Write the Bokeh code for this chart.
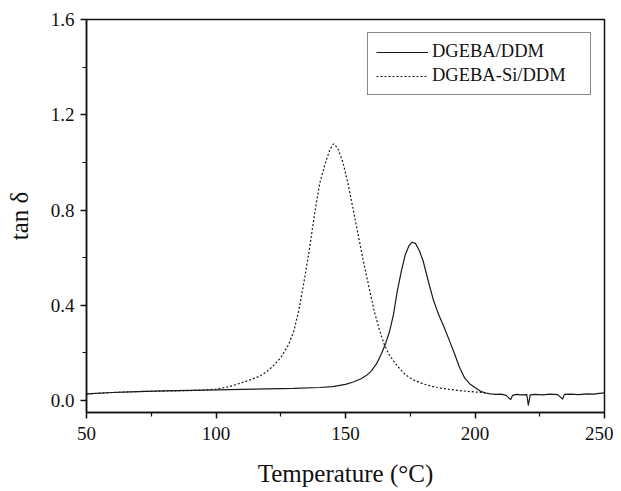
from bokeh.plotting import figure
from bokeh.models import FixedTicker, Range1d, CustomJSTickFormatter
from bokeh.embed import file_html
from bokeh.resources import INLINE

# DGEBA/DDM (solid)
t_ddm = [50, 60, 70, 80, 90, 100, 110, 120, 130, 140, 145, 150, 153, 156, 158, 160, 162, 164,
         165.5, 167, 168.5, 170, 171.5, 173, 174.5, 175.7, 177, 178.5, 180, 182, 184, 186, 188,
         190, 192, 194, 196, 198, 200, 202, 204, 206, 208, 210, 212, 213.8, 214.5, 216, 218, 220,
         220.6, 221.3, 223, 226, 229, 232, 233.8, 234.5, 237, 240, 243, 246, 248, 250]
tan_ddm = [0.028, 0.034, 0.038, 0.041, 0.043, 0.045, 0.047, 0.049, 0.051, 0.055, 0.059, 0.068,
           0.078, 0.092, 0.105, 0.125, 0.155, 0.2, 0.24, 0.29, 0.36, 0.46, 0.54, 0.61, 0.65, 0.665,
           0.66, 0.63, 0.585, 0.5, 0.42, 0.36, 0.31, 0.255, 0.2, 0.14, 0.095, 0.07, 0.055, 0.04,
           0.032, 0.028, 0.026, 0.027, 0.022, 0.004, 0.022, 0.026, 0.024, 0.025, -0.02, 0.024,
           0.026, 0.024, 0.027, 0.025, 0.006, 0.026, 0.027, 0.025, 0.028, 0.027, 0.03, 0.032]

# DGEBA-Si/DDM (dotted)
t_si = [50, 60, 70, 80, 90, 95, 100, 105, 110, 114, 117, 120, 122, 125, 128, 130, 132, 134,
        136, 138, 140, 142, 144, 145.4, 147, 149, 151, 153, 155, 157, 159, 161, 163, 165, 167,
        170, 173, 176, 180, 185, 190, 195, 200, 205]
tan_si = [0.028, 0.034, 0.038, 0.040, 0.042, 0.044, 0.048, 0.058, 0.075, 0.09, 0.103, 0.125,
          0.145, 0.18, 0.235, 0.29, 0.38, 0.5, 0.63, 0.78, 0.91, 0.99, 1.055, 1.078, 1.06, 1.0,
          0.91, 0.8, 0.69, 0.58, 0.48, 0.38, 0.3, 0.235, 0.19, 0.145, 0.11, 0.088, 0.07, 0.055,
          0.047, 0.041, 0.036, 0.032]

x_major = [50, 100, 150, 200, 250]
x_minor = [75, 125, 175, 225]
y_major = [0.0, 0.4, 0.8, 1.2, 1.6]
y_minor = [0.2, 0.6, 1.0, 1.4]

SERIF = "Liberation Serif"
INK = "#111111"

p = figure(width=613, height=489, output_backend="svg", toolbar_location=None,
           x_range=Range1d(50, 250), y_range=Range1d(-0.05, 1.6),
           min_border_left=86, min_border_top=19, min_border_right=9, min_border_bottom=77)
p.background_fill_color = "white"
p.border_fill_color = "white"
p.grid.visible = False
p.outline_line_color = INK
p.outline_line_width = 1.5

p.line(t_ddm, tan_ddm, line_color="#1a1a1a", line_width=1.2, legend_label="DGEBA/DDM")
p.line(t_si, tan_si, line_color="#1a1a1a", line_width=1.2, line_dash="2 2",
       legend_label="DGEBA-Si/DDM")

p.xaxis.ticker = FixedTicker(ticks=x_major, minor_ticks=x_minor)
p.yaxis.ticker = FixedTicker(ticks=y_major, minor_ticks=y_minor)
p.yaxis.formatter = CustomJSTickFormatter(code="return tick.toFixed(1);")

for ax in (p.xaxis, p.yaxis):
    ax.axis_line_color = INK
    ax.axis_line_width = 1.5
    ax.major_tick_line_color = INK
    ax.minor_tick_line_color = INK
    ax.major_tick_line_width = 1.5
    ax.minor_tick_line_width = 1.2
    ax.major_tick_in = 0
    ax.major_tick_out = 6
    ax.minor_tick_in = 0
    ax.minor_tick_out = 4
    ax.major_label_text_font = SERIF
    ax.major_label_text_font_size = "19px"
    ax.major_label_text_color = INK
    ax.axis_label_text_font = SERIF
    ax.axis_label_text_font_size = "25px"
    ax.axis_label_text_font_style = "normal"
    ax.axis_label_text_color = INK

p.xaxis.axis_label = "Temperature (\u00b0C)"
p.yaxis.axis_label = "tan \u03b4"
p.xaxis.major_label_standoff = 8
p.xaxis.axis_label_standoff = 17
p.yaxis.major_label_standoff = 6
p.yaxis.axis_label_standoff = 15

lg = p.legend[0]
lg.location = "top_right"
lg.margin = 13
lg.border_line_color = INK
lg.border_line_width = 1
lg.background_fill_alpha = 1
lg.label_text_font = SERIF
lg.label_text_font_size = "18.5px"
lg.label_text_color = INK
lg.glyph_width = 52
lg.glyph_height = 20
lg.label_height = 20
lg.label_width = 150
lg.spacing = 3
lg.padding = 8
lg.label_standoff = 4

open("out.html", "w").write(file_html(p, INLINE))
